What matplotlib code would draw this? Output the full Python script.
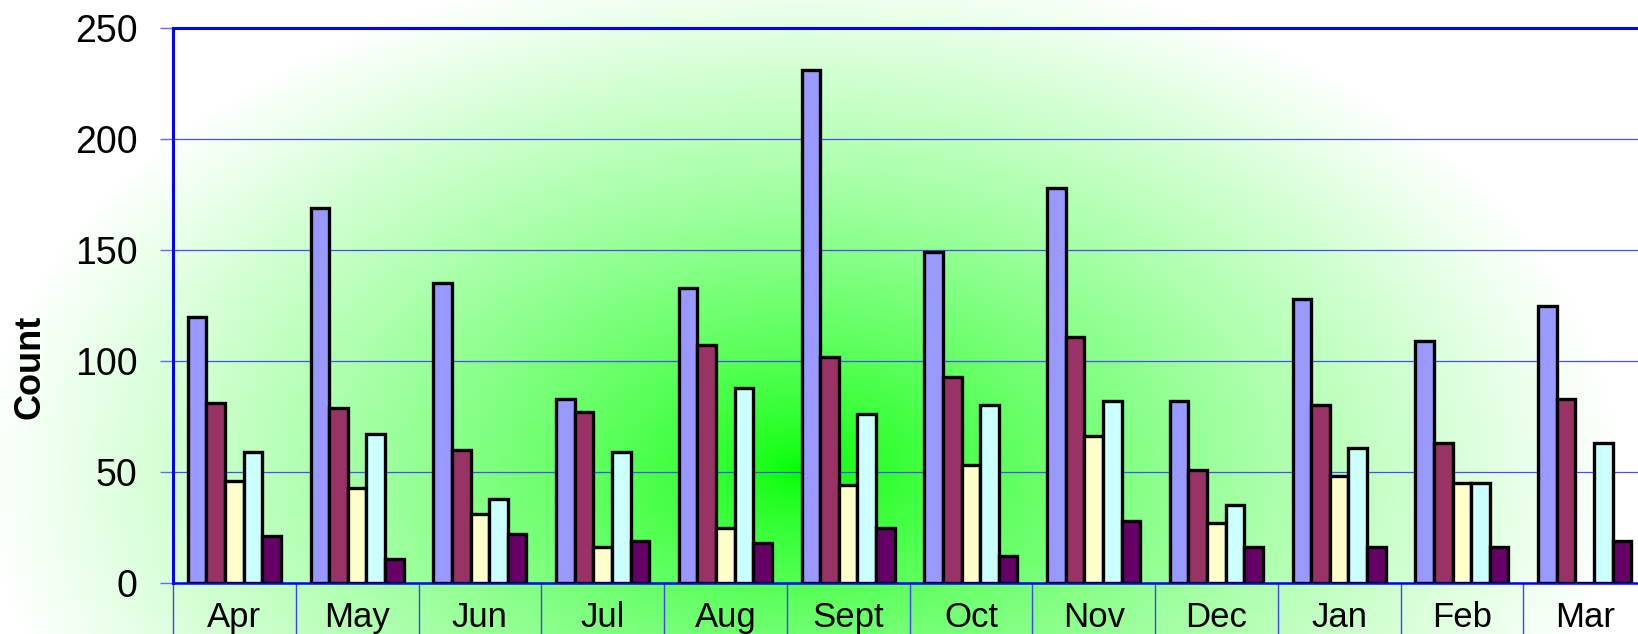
import numpy as np
import matplotlib
matplotlib.use("Agg")
import matplotlib.pyplot as plt

months = ["Apr", "May", "Jun", "Jul", "Aug", "Sept", "Oct", "Nov", "Dec", "Jan", "Feb", "Mar"]
series_a = [120, 169, 135, 83, 133, 231, 149, 178, 82, 128, 109, 125]
series_b = [81, 79, 60, 77, 107, 102, 93, 111, 51, 80, 63, 83]
series_c = [46, 43, 31, 16, 25, 44, 53, 66, 27, 48, 45, 0]
series_d = [59, 67, 38, 59, 88, 76, 80, 82, 35, 61, 45, 63]
series_e = [21, 11, 22, 19, 18, 25, 12, 28, 16, 16, 16, 19]
colors = ["#9999FF", "#993366", "#FFFFCC", "#CCFFFF", "#660066"]
y_ticks = [0, 50, 100, 150, 200, 250]

plt.rcParams['font.family'] = ['Liberation Sans', 'DejaVu Sans']

W, H = 1638, 634
fig = plt.figure(figsize=(W / 100, H / 100), dpi=100)

# radial green gradient behind the whole chart
bg = fig.add_axes([0, 0, 1, 1], zorder=0)
yy, xx = np.mgrid[0:H, 0:W]
t = np.sqrt(((xx - 800) / 820.0) ** 2 + ((yy - 470) / 520.0) ** 2)
w = np.clip(t, 0, 1) ** 0.72
img = np.dstack([w, np.ones_like(w), w])
bg.imshow(img, extent=[0, W, H, 0], aspect="auto")
bg.axis("off")

left, right, top, bottom = 173, 1646, 28, 583
ax = fig.add_axes([left / W, (H - bottom) / H, (right - left) / W, (bottom - top) / H], zorder=1)
ax.patch.set_alpha(0)

x = np.arange(len(months))
bw = 0.1516
all_series = [series_a, series_b, series_c, series_d, series_e]
for i, (vals, c) in enumerate(zip(all_series, colors)):
    ax.bar(x + (i - 2) * bw, vals, width=bw, color=c, edgecolor="black",
           linewidth=2.4, zorder=3)

ax.set_xlim(-0.5, len(months) - 0.5)
ax.set_ylim(0, 250)
ax.set_yticks(y_ticks)
ax.tick_params(axis="y", labelsize=27, length=9.4, width=1, color="#6666FF",
               pad=16, direction="out")
ax.grid(axis="y", color="#4a4aff", linewidth=0.9, zorder=1)

ax.set_xticks(x)
ax.set_xticklabels(months)
ax.tick_params(axis="x", which="major", length=0, labelsize=25, pad=13)
ax.set_xticks(np.arange(len(months) + 1) - 0.5, minor=True)
ax.tick_params(axis="x", which="minor", length=60, width=1, color="#4040FF",
               direction="out")

for side in ["left", "top", "bottom"]:
    ax.spines[side].set_color("#0000FF")
    ax.spines[side].set_linewidth(2.2)
ax.spines["bottom"].set_linewidth(1.8)
ax.spines["right"].set_visible(False)

fig.text(30 / W, 1 - 367 / H, "Count", rotation=90, fontsize=26, fontweight="bold",
         ha="center", va="center")

fig.savefig("out.png", dpi=100)
